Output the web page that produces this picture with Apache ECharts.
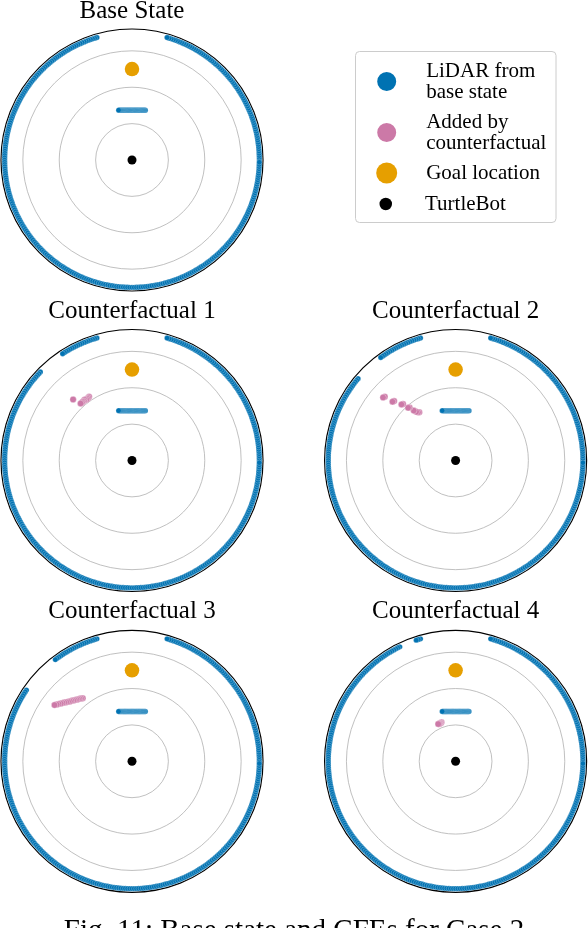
<!DOCTYPE html>
<html>
<head>
<meta charset="utf-8">
<title>Base state and CFEs for Case 2</title>
<script src="https://cdn.jsdelivr.net/npm/echarts@6/dist/echarts.min.js"></script>
<style>
  html, body { margin: 0; padding: 0; background: #fff; }
  #chart { width: 588px; height: 928px; }
</style>
</head>
<body>
<div id="chart"></div>
<script>
// LiDAR ranges of the base state, one beam per degree (array index = beam angle in degrees)
const baseRanges = [
  3.50, 3.50, 3.50, 3.50, 3.50, 3.50, 3.50, 3.50, 3.50, 3.50, 3.50, 3.50, 3.50, 3.50, 3.50,
  3.50, 3.50, 3.50, 3.50, 3.50, 3.50, 3.50, 3.50, 3.50, 3.50, 3.50, 3.50, 3.50, 3.50, 3.50,
  3.50, 3.50, 3.50, 3.50, 3.50, 3.50, 3.50, 3.50, 3.50, 3.50, 3.50, 3.50, 3.50, 3.50, 3.50,
  3.50, 3.50, 3.50, 3.50, 3.50, 3.50, 3.50, 3.50, 3.50, 3.50, 3.50, 3.50, 3.50, 3.50, 3.50,
  3.50, 3.50, 3.50, 3.50, 3.50, 3.50, 3.50, 3.50, 3.50, 3.50, 3.50, 3.50, 3.50, 3.50, 3.50,
  1.418, 1.412, 1.406, 1.401, 1.396, 1.391, 1.387, 1.383, 1.380, 1.378, 1.375, 1.373, 1.372, 1.371, 1.370,
  1.370, 1.370, 1.371, 1.372, 1.373, 1.375, 1.378, 1.380, 1.383, 1.387, 1.391, 1.396, 1.401, 1.406, 1.412,
  1.418, 3.50, 3.50, 3.50, 3.50, 3.50, 3.50, 3.50, 3.50, 3.50, 3.50, 3.50, 3.50, 3.50, 3.50,
  3.50, 3.50, 3.50, 3.50, 3.50, 3.50, 3.50, 3.50, 3.50, 3.50, 3.50, 3.50, 3.50, 3.50, 3.50,
  3.50, 3.50, 3.50, 3.50, 3.50, 3.50, 3.50, 3.50, 3.50, 3.50, 3.50, 3.50, 3.50, 3.50, 3.50,
  3.50, 3.50, 3.50, 3.50, 3.50, 3.50, 3.50, 3.50, 3.50, 3.50, 3.50, 3.50, 3.50, 3.50, 3.50,
  3.50, 3.50, 3.50, 3.50, 3.50, 3.50, 3.50, 3.50, 3.50, 3.50, 3.50, 3.50, 3.50, 3.50, 3.50,
  3.50, 3.50, 3.50, 3.50, 3.50, 3.50, 3.50, 3.50, 3.50, 3.50, 3.50, 3.50, 3.50, 3.50, 3.50,
  3.50, 3.50, 3.50, 3.50, 3.50, 3.50, 3.50, 3.50, 3.50, 3.50, 3.50, 3.50, 3.50, 3.50, 3.50,
  3.50, 3.50, 3.50, 3.50, 3.50, 3.50, 3.50, 3.50, 3.50, 3.50, 3.50, 3.50, 3.50, 3.50, 3.50,
  3.50, 3.50, 3.50, 3.50, 3.50, 3.50, 3.50, 3.50, 3.50, 3.50, 3.50, 3.50, 3.50, 3.50, 3.50,
  3.50, 3.50, 3.50, 3.50, 3.50, 3.50, 3.50, 3.50, 3.50, 3.50, 3.50, 3.50, 3.50, 3.50, 3.50,
  3.50, 3.50, 3.50, 3.50, 3.50, 3.50, 3.50, 3.50, 3.50, 3.50, 3.50, 3.50, 3.50, 3.50, 3.50,
  3.50, 3.50, 3.50, 3.50, 3.50, 3.50, 3.50, 3.50, 3.50, 3.50, 3.50, 3.50, 3.50, 3.50, 3.50,
  3.50, 3.50, 3.50, 3.50, 3.50, 3.50, 3.50, 3.50, 3.50, 3.50, 3.50, 3.50, 3.50, 3.50, 3.50,
  3.50, 3.50, 3.50, 3.50, 3.50, 3.50, 3.50, 3.50, 3.50, 3.50, 3.50, 3.50, 3.50, 3.50, 3.50,
  3.50, 3.50, 3.50, 3.50, 3.50, 3.50, 3.50, 3.50, 3.50, 3.50, 3.50, 3.50, 3.50, 3.50, 3.50,
  3.50, 3.50, 3.50, 3.50, 3.50, 3.50, 3.50, 3.50, 3.50, 3.50, 3.50, 3.50, 3.50, 3.50, 3.50,
  3.50, 3.50, 3.50, 3.50, 3.50, 3.50, 3.50, 3.50, 3.50, 3.50, 3.50, 3.50, 3.50, 3.50, 3.50
];

// beams [first, last] (degrees) replaced by each counterfactual
const cf1Gap = [124, 135];
const cf2Gap = [127, 139];
const cf3Gap = [128, 145];
const cf4Gap = [109, 115];

// points added by each counterfactual: [angle (deg), range (m)]
const cf1Added = [[124, 2.11], [125, 2.10], [126, 2.10], [127, 2.09], [128, 2.12], [129, 2.10],
                  [130, 2.11], [131, 2.10], [132, 2.11], [134, 2.33]];
const cf2Added = [[127, 1.66], [128, 1.68], [129, 1.72], [130, 1.79], [131, 1.93], [132, 1.95],
                  [133, 2.12], [134, 2.14], [136, 2.35], [137, 2.37], [138, 2.62], [139, 2.64]];
const cf3Added = [[128, 2.20], [129, 2.22], [130, 2.24], [131, 2.26], [132, 2.28], [133, 2.30],
                  [134, 2.32], [135, 2.35], [136, 2.37], [137, 2.40], [138, 2.43], [139, 2.46],
                  [140, 2.49], [141, 2.52], [142, 2.56], [143, 2.59], [144, 2.63]];
const cf4Added = [[110, 1.14], [111, 1.13], [112, 1.13], [113, 1.13], [114, 1.12], [115, 1.13]];

const goalPoint = [90, 2.5];   // [angle, range]
const robotPoint = [0, 0];

const panelTitles = ['Base State', 'Counterfactual 1', 'Counterfactual 2', 'Counterfactual 3', 'Counterfactual 4'];
const panelGaps = [null, cf1Gap, cf2Gap, cf3Gap, cf4Gap];
const panelAdded = [[], cf1Added, cf2Added, cf3Added, cf4Added];

const radiusMax = 3.6;

const seriesNames = ['LiDAR from base state', 'Added by counterfactual', 'Goal location', 'TurtleBot'];
const legendLabels = {
    'LiDAR from base state': 'LiDAR from\nbase state',
    'Added by counterfactual': 'Added by\ncounterfactual',
    'Goal location': 'Goal location',
    'TurtleBot': 'TurtleBot'
};

const blueColor = '#0072B2';
const pinkColor = '#CC79A7';
const goalColor = '#E69F00';
const serif = '"Liberation Serif", "Times New Roman", serif';

// panel placement in pixels
const centers = [[132, 160], [132, 460.5], [455.6, 460.5], [132, 761.3], [455.6, 761.3]];
const titleTops = [-1, 298.5, 298.5, 598.5, 598.5];

const chart = echarts.init(document.getElementById('chart'));

let polar = [], angleAxis = [], radiusAxis = [], series = [], title = [];

panelTitles.forEach((name, i) => {
    polar.push({center: centers[i], radius: 131});

    angleAxis.push({
        polarIndex: i,
        type: 'value',
        min: 0,
        max: 360,
        startAngle: 0,
        clockwise: false,
        axisLine: {lineStyle: {color: '#000', width: 1.2}},
        axisTick: {show: false},
        axisLabel: {show: false},
        splitLine: {show: false}
    });

    radiusAxis.push({
        polarIndex: i,
        type: 'value',
        min: 0,
        max: radiusMax,
        interval: 1,
        axisLine: {show: false},
        axisTick: {show: false},
        axisLabel: {show: false},
        splitLine: {
            lineStyle: {
                color: ['#b0b0b0', '#b0b0b0', '#b0b0b0', '#b0b0b0', 'rgba(0,0,0,0)'],
                width: 0.8
            }
        }
    });

    title.push({
        text: name,
        left: centers[i][0],
        top: titleTops[i],
        textAlign: 'center',
        padding: 0,
        textStyle: {fontFamily: serif, fontSize: 25, fontWeight: 'normal', color: '#000'}
    });

    const gap = panelGaps[i];
    const lidar = [];
    baseRanges.forEach((r, angle) => {
        if (gap && angle >= gap[0] && angle <= gap[1]) return;
        lidar.push([r, angle]);
    });

    series.push({
        name: seriesNames[0],
        type: 'scatter',
        coordinateSystem: 'polar',
        polarIndex: i,
        symbolSize: 5.4,
        itemStyle: {color: blueColor, opacity: 1, borderColor: '#fff', borderWidth: 0.25},
        data: lidar
    });
    series.push({
        name: seriesNames[1],
        type: 'scatter',
        coordinateSystem: 'polar',
        polarIndex: i,
        symbolSize: 6.5,
        itemStyle: {color: pinkColor, opacity: 1, borderColor: '#fff', borderWidth: 0.35},
        data: panelAdded[i].map(d => [d[1], d[0]])
    });
    series.push({
        name: seriesNames[2],
        type: 'scatter',
        coordinateSystem: 'polar',
        polarIndex: i,
        symbolSize: 14.5,
        itemStyle: {color: goalColor, opacity: 1},
        data: [[goalPoint[1], goalPoint[0]]]
    });
    series.push({
        name: seriesNames[3],
        type: 'scatter',
        coordinateSystem: 'polar',
        polarIndex: i,
        symbolSize: 9,
        itemStyle: {color: '#000', opacity: 1},
        data: [[robotPoint[1], robotPoint[0]]]
    });
});

const legendText = {fontFamily: serif, fontSize: 21, lineHeight: 21, color: '#000', padding: [0, 0, 0, 24]};

chart.setOption({
    animation: false,
    backgroundColor: '#fff',
    title: title,
    polar: polar,
    angleAxis: angleAxis,
    radiusAxis: radiusAxis,
    legend: [{
        orient: 'vertical',
        left: 375.2,
        top: 60.5,
        padding: 0,
        itemGap: 9,
        itemWidth: 21,
        itemHeight: 21,
        icon: 'circle',
        selectedMode: false,
        data: seriesNames.slice(0, 3),
        formatter: n => legendLabels[n],
        textStyle: legendText
    }, {
        orient: 'vertical',
        left: 379.5,
        top: 193.5,
        padding: 0,
        itemWidth: 12.5,
        itemHeight: 12.5,
        icon: 'circle',
        selectedMode: false,
        data: seriesNames.slice(3),
        formatter: n => legendLabels[n],
        textStyle: Object.assign({}, legendText, {padding: [0, 0, 0, 28]})
    }],
    graphic: [{
        type: 'rect',
        z: -1,
        shape: {x: 355.5, y: 51.5, width: 200.5, height: 171, r: 4},
        style: {fill: '#fff', stroke: '#cccccc', lineWidth: 1}
    }, {
        type: 'text',
        x: 294,
        y: 917,
        style: {
            text: 'Fig. 11: Base state and CFEs for Case 2',
            font: '29px ' + serif,
            fill: '#000',
            align: 'center',
            verticalAlign: 'top'
        }
    }],
    series: series
});
</script>
</body>
</html>
